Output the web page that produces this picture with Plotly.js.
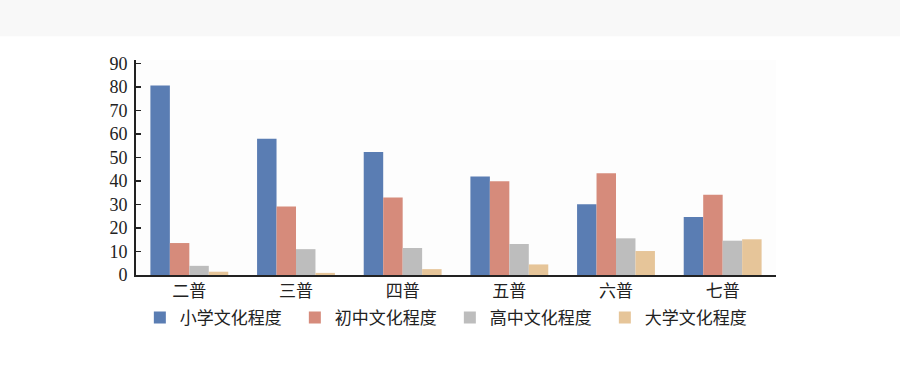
<!DOCTYPE html>
<html>
<head>
<meta charset="utf-8">
<script src="https://cdn.plot.ly/plotly-3.0.1.min.js"></script>
<style>html,body{margin:0;padding:0;background:#fff;}#chart{width:900px;height:373px;}</style>
</head>
<body>
<div id="chart"></div>
<script>
const categories = ['二普', '三普', '四普', '五普', '六普', '七普'];
const seriesNames = ['小学文化程度', '初中文化程度', '高中文化程度', '大学文化程度'];
const primary = [80.6, 58.0, 52.3, 41.9, 30.1, 24.7];
const juniorHigh = [13.6, 29.2, 33.0, 39.9, 43.3, 34.2];
const seniorHigh = [3.9, 11.0, 11.5, 13.2, 15.6, 14.6];
const university = [1.4, 0.9, 2.5, 4.5, 10.2, 15.2];
const colors = ['#5a7db3', '#d68b7b', '#bdbdbd', '#e6c599'];

const values = [primary, juniorHigh, seniorHigh, university];
const traces = values.map((v, i) => ({
  type: 'bar', name: seriesNames[i], x: categories, y: v,
  marker: {color: colors[i], line: {width: 0}},
  hoverinfo: 'skip'
}));

const layout = {
  width: 900, height: 373,
  margin: {l: 136, r: 124, t: 60, b: 97.5, pad: 0},
  paper_bgcolor: '#ffffff', plot_bgcolor: '#fdfdfd',
  barmode: 'group', bargap: 0.27, bargroupgap: 0,
  showlegend: true,
  legend: {orientation: 'h', x: 0.006, xanchor: 'left', y: -0.2, yanchor: 'middle',
    entrywidth: 110, entrywidthmode: 'pixels', itemwidth: 30,
    font: {family: 'Noto Sans CJK SC', size: 17, color: '#222'}, bgcolor: 'rgba(0,0,0,0)'},
  xaxis: {type: 'category', range: [-0.5, 5.5], showline: true, linecolor: '#222', linewidth: 2,
    ticks: '', showgrid: false, zeroline: false, fixedrange: true,
    tickfont: {family: 'Noto Sans CJK SC', size: 17, color: '#222'}},
  yaxis: {range: [0, 91.5], tickvals: [0,10,20,30,40,50,60,70,80,90], showline: true, linecolor: '#222', linewidth: 2,
    ticks: 'inside', ticklen: 5, tickwidth: 1.5, tickcolor: '#222', showgrid: false, zeroline: false,
    tickfont: {family: 'Liberation Serif', size: 18, color: '#222'}, ticklabelstandoff: 3},
  shapes: [{type: 'rect', xref: 'paper', yref: 'paper', x0: -0.3, x1: 1.3, y0: 1.111, y1: 1.3,
    fillcolor: '#f8f8f8', line: {width: 0}, layer: 'below'}]
};
Plotly.newPlot('chart', traces, layout, {displayModeBar: false, staticPlot: true});
</script>
</body>
</html>
